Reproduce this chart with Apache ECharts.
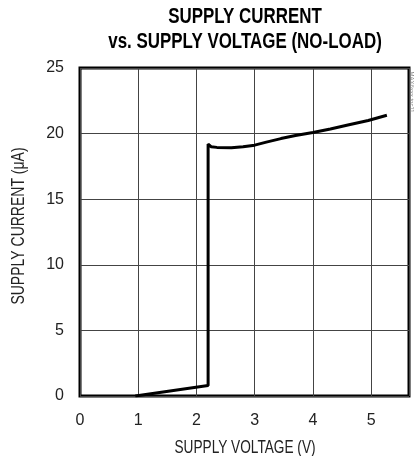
<!DOCTYPE html>
<html><head><meta charset="utf-8">
<script src="https://cdn.jsdelivr.net/npm/echarts@6/dist/echarts.min.js"></script>
<style>html,body{margin:0;padding:0;background:#fff}#c{width:417px;height:456px}</style>
</head><body><div id="c"></div>
<script>
var titleLines = ['SUPPLY CURRENT', 'vs. SUPPLY VOLTAGE (NO-LOAD)'];
var xName = 'SUPPLY VOLTAGE (V)';
var yName = 'SUPPLY CURRENT (\u03bcA)';
var watermark = 'MAX6xxx toc11';
var voltage = [0.95, 2.2, 2.2, 2.25, 2.35, 2.6, 2.8, 3.0, 3.2, 3.45, 3.7, 4.0, 4.3, 4.6, 4.95, 5.27];
var current = [0.0, 0.8, 19.2, 19.0, 18.95, 18.92, 19.0, 19.12, 19.35, 19.62, 19.85, 20.08, 20.35, 20.65, 21.0, 21.4];
var xMin = 0, xMax = 5.65, xStep = 1;
var yMin = 0, yMax = 25, yStep = 5;
var font = '"Liberation Sans Narrow", "Arial Narrow", "Liberation Sans", sans-serif';

var chart = echarts.init(document.getElementById('c'));
var pts = voltage.map(function (v, i) { return [v, current[i]]; });

function label(text, x, y, size, weight, sx, rot, color) {
  return {
    type: 'text', x: x, y: y, scaleX: sx, scaleY: 1, rotation: rot || 0,
    style: {
      text: text, fontFamily: font, fontSize: size, fontWeight: weight,
      fill: color, align: 'center', verticalAlign: 'middle',
      textAlign: 'center', textVerticalAlign: 'middle'
    }
  };
}

chart.setOption({
  animation: false,
  grid: { left: 80, right: 8, top: 68, bottom: 60, show: true, borderColor: '#000', borderWidth: 3, backgroundColor: 'transparent' },
  xAxis: {
    type: 'value', min: xMin, max: xMax, interval: xStep,
    axisLine: { show: false }, axisTick: { show: false },
    axisLabel: { fontFamily: font, fontSize: 16, color: '#222', margin: 17, showMaxLabel: false },
    splitLine: { show: true, lineStyle: { color: '#444', width: 1 } }
  },
  yAxis: {
    type: 'value', min: yMin, max: yMax, interval: yStep,
    axisLine: { show: false }, axisTick: { show: false },
    axisLabel: { fontFamily: font, fontSize: 16, color: '#222', margin: 16 },
    splitLine: { show: true, lineStyle: { color: '#444', width: 1 } }
  },
  graphic: [
    label(titleLines[0], 245, 16.5, 22, 'bold', 0.77, 0, '#000'),
    label(titleLines[1], 245, 42, 22, 'bold', 0.77, 0, '#000'),
    label(xName, 245, 448, 17.5, 'normal', 0.78, 0, '#222'),
    label(yName, 19, 226, 17.5, 'normal', 0.8, Math.PI / 2, '#222'),
    label(watermark, 412, 92, 6, 'normal', 1, -Math.PI / 2, '#888')
  ],
  series: [{
    type: 'line', data: pts, symbol: 'none', smooth: false,
    lineStyle: { color: '#000', width: 3 }
  }]
});
</script></body></html>
